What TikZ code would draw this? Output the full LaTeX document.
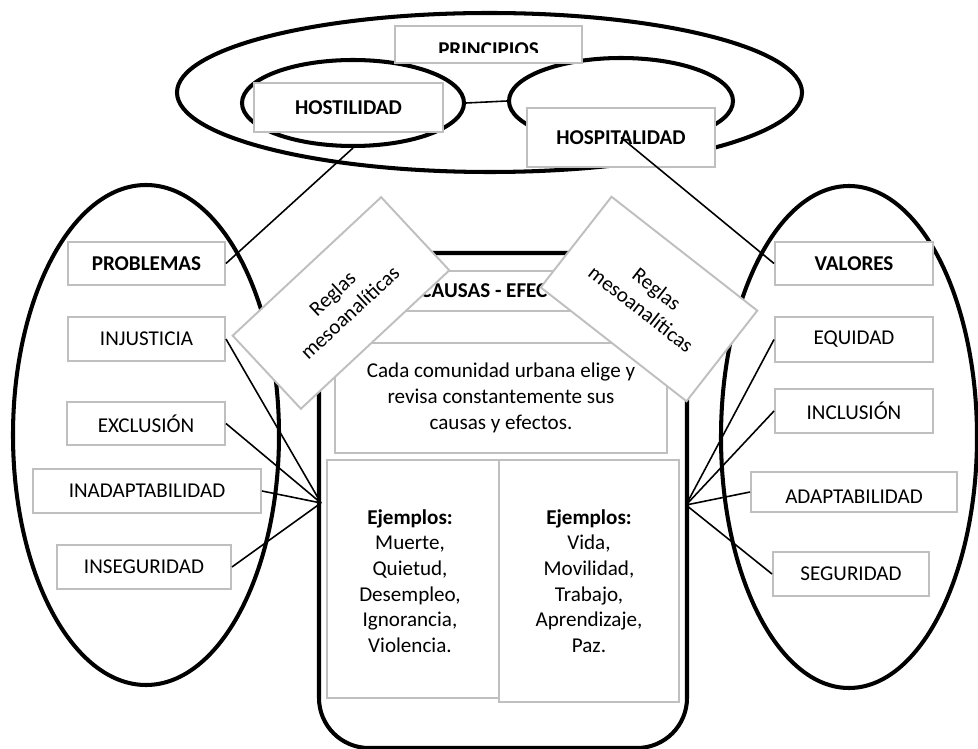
\documentclass[tikz,border=0pt]{standalone}
\usepackage{fontspec}
\setmainfont{Carlito}
\usetikzlibrary{shapes.geometric}

\tikzset{
  ring/.style={line width=2.3pt},
  cell/.style 2 args={draw=black!25, line width=1.1pt, fill=white, inner sep=0pt,
    minimum width=#1*0.2mm, minimum height=#2*0.2mm, align=center},
  link/.style={line width=0.9pt},
}

\begin{document}
\begin{tikzpicture}[x=0.2mm, y=-0.2mm, font=\fontsize{12}{14.6}\selectfont]
  \useasboundingbox (0,0) rectangle (978,749);

  % principios
  \draw[ring] (489.5,92.5) ellipse [x radius=312.5, y radius=79.5];
  \node (hostEll) [ring, draw, ellipse, inner sep=0pt, minimum width=222*0.2mm, minimum height=86*0.2mm] at (353,103) {};
  \node (hospEll) [ring, draw, ellipse, inner sep=0pt, minimum width=224*0.2mm, minimum height=86*0.2mm] at (621,101) {};
  \draw[link] (hostEll.east) -- (hospEll.west);
  \draw (488.5,44.5) node (principios) [cell={187}{37}] {};
  \begin{scope}
    \clip (395,26) rectangle (582,53);
    \draw (488.5,50) node (principiosTxt) [] {\textbf{PRINCIPIOS}};
  \end{scope}
  \draw (348.5,107.5) node (hostilidad) [cell={189}{49}] {\textbf{HOSTILIDAD}};
  \draw (621,137.5) node (hospitalidad) [cell={188}{59}] {\textbf{HOSPITALIDAD}};

  % problemas / valores
  \draw[ring] (146,435) ellipse [x radius=133, y radius=250];
  \draw[ring] (849,437) ellipse [x radius=128, y radius=251];
  \draw (146.5,263.5) node (problemas) [cell={157}{43}] {\textbf{PROBLEMAS}};
  \draw (146.5,339) node (injusticia) [cell={157}{44}] {INJUSTICIA};
  \draw (146,423.5) node (exclusion) [cell={158}{43}] {EXCLUSIÓN};
  \draw (147,491) node (inadapt) [cell={228}{44}] {INADAPTABILIDAD};
  \draw (144,567) node (inseguridad) [cell={174}{44}] {INSEGURIDAD};

  \draw (854,263.5) node (valores) [cell={158}{43}] {\textbf{VALORES}};
  \draw (854,339.5) node (equidad) [cell={158}{45}] {EQUIDAD};
  \draw (854,411) node (inclusion) [cell={158}{44}] {INCLUSIÓN};
  \draw (854,492) node (adapt) [cell={206}{40}] {};
  \begin{scope}
    \clip (751,472) rectangle (957,503);
    \draw (854,497) node (adaptTxt) [] {ADAPTABILIDAD};
  \end{scope}
  \draw (851,574) node (seguridad) [cell={156}{44}] {SEGURIDAD};

  % causas - efectos
  \draw[ring, rounded corners=10mm] (319,253) rectangle (687,748);
  \draw (501,291) node (causas) [cell={332}{40}] {\textbf{CAUSAS - EFECTOS}};
  \draw (501,398) node (cada) [cell={332}{110}] {Cada comunidad urbana elige y\\revisa constantemente sus\\causas y efectos.};
  \draw (413,579) node (causasEj) [cell={172}{238}] {};
  \draw (589,581) node (efectosEj) [cell={180}{242}] {};
  \draw (410,509) node (causasList) [anchor=north, inner sep=0pt, align=center]
        {\textbf{Ejemplos:}\\Muerte,\\Quietud,\\Desempleo,\\Ignorancia,\\Violencia.};
  \draw (589,509) node (efectosList) [anchor=north, inner sep=0pt, align=center]
        {\textbf{Ejemplos:}\\Vida,\\Movilidad,\\Trabajo,\\Aprendizaje,\\Paz.};

  \coordinate (lhub) at (321,503);
  \coordinate (rhub) at (686,505);
  \draw[link] (hostEll.south) -- (problemas.east);
  \draw[link] (hospitalidad.center) -- (valores.west);
  \draw[link] (injusticia.east) -- (lhub);
  \draw[link] (exclusion.east) -- (lhub);
  \draw[link] (inadapt.east) -- (lhub);
  \draw[link] (inseguridad.east) -- (lhub);
  \draw[link] (equidad.west) -- (rhub);
  \draw[link] (inclusion.west) -- (rhub);
  \draw[link] (adapt.west) -- (rhub);
  \draw[link] (seguridad.west) -- (rhub);

  % reglas
  \draw (341,303) node (reglasL) [cell={203}{100}, rotate=43] {Reglas\\mesoanalíticas};
  \draw (649,299) node (reglasR) [cell={185}{115}, rotate=-38] {Reglas\\mesoanalíticas};
\end{tikzpicture}
\end{document}
